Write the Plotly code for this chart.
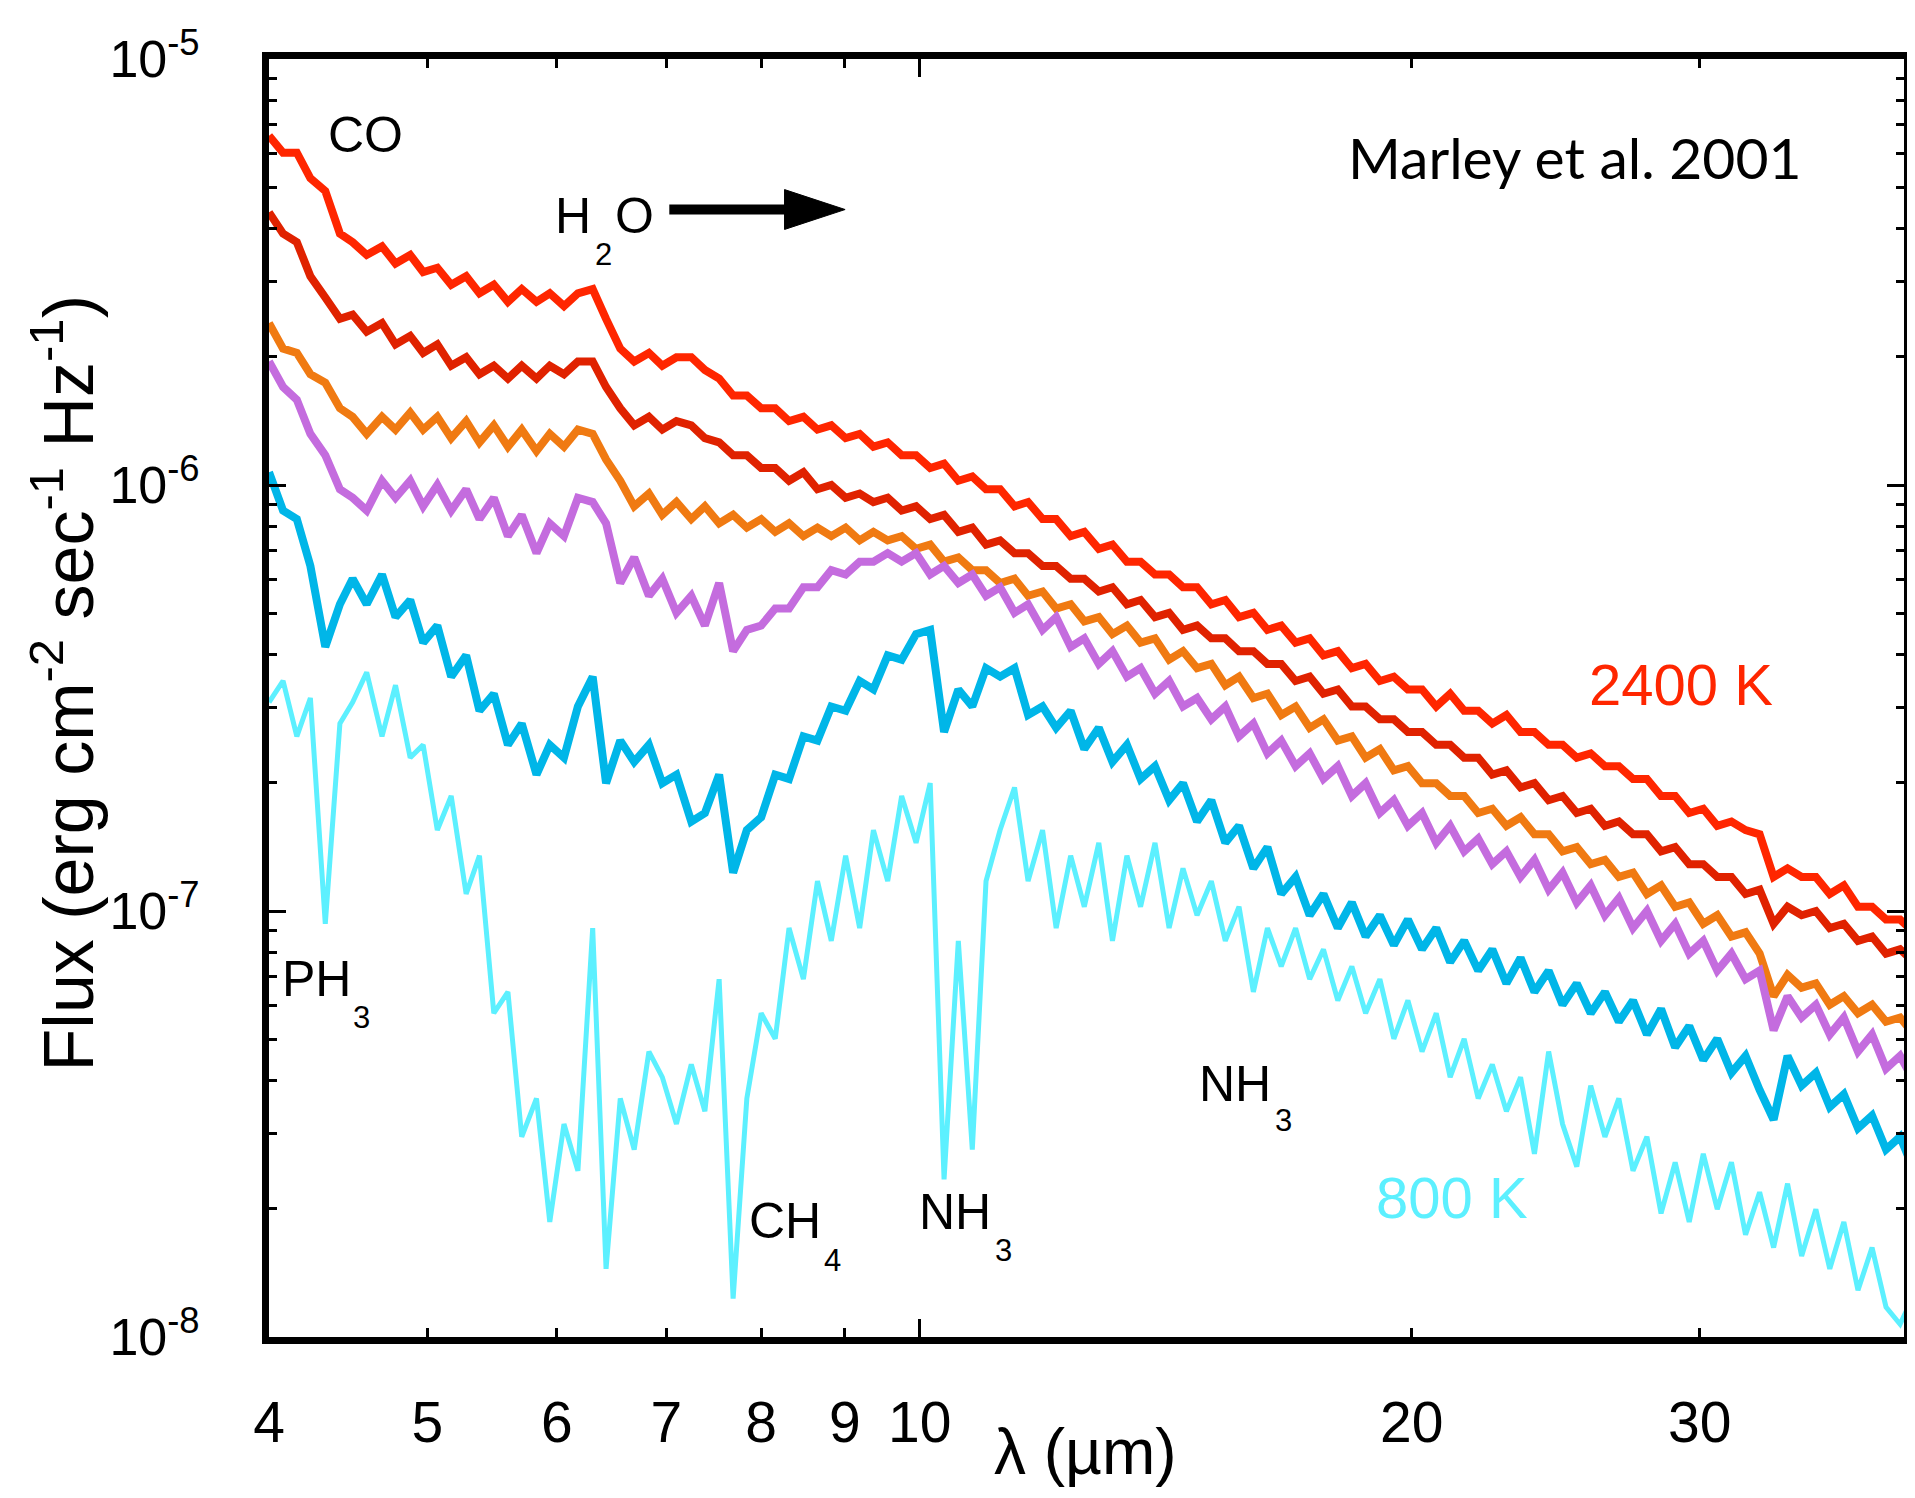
import numpy as np
import plotly.graph_objects as go

# ---------------- data ----------------
wavelength_um = [
    4.00, 4.08, 4.16, 4.24, 4.33, 4.42, 4.50, 4.59, 4.69, 4.78,
    4.88, 4.97, 5.07, 5.17, 5.28, 5.38, 5.49, 5.60, 5.71, 5.83,
    5.94, 6.06, 6.18, 6.31, 6.43, 6.56, 6.69, 6.83, 6.96, 7.10,
    7.25, 7.39, 7.54, 7.69, 7.84, 8.00, 8.16, 8.32, 8.49, 8.66,
    8.83, 9.01, 9.19, 9.37, 9.56, 9.75, 9.95, 10.15, 10.35, 10.56,
    10.77, 10.98, 11.20, 11.43, 11.65, 11.89, 12.12, 12.37, 12.61, 12.87,
    13.12, 13.39, 13.65, 13.93, 14.21, 14.49, 14.78, 15.08, 15.38, 15.68,
    16.00, 16.32, 16.64, 16.98, 17.32, 17.66, 18.02, 18.38, 18.74, 19.12,
    19.50, 19.89, 20.29, 20.70, 21.11, 21.53, 21.96, 22.40, 22.85, 23.31,
    23.77, 24.25, 24.73, 25.23, 25.73, 26.25, 26.77, 27.31, 27.85, 28.41,
    28.98, 29.56, 30.15, 30.75, 31.37, 32.00, 32.64, 33.29, 33.95, 34.63,
    35.33, 36.03, 36.75, 37.49, 38.24, 39.00, 39.78, 40.58,
]

# log10 of flux (erg cm^-2 s^-1 Hz^-1)
log_flux_2400K = [
    -5.18, -5.22, -5.22, -5.28, -5.31, -5.41, -5.43, -5.46, -5.44, -5.48,
    -5.46, -5.50, -5.49, -5.53, -5.51, -5.55, -5.53, -5.57, -5.54, -5.57,
    -5.55, -5.58, -5.55, -5.54, -5.61, -5.68, -5.71, -5.69, -5.72, -5.70,
    -5.70, -5.73, -5.75, -5.79, -5.79, -5.82, -5.82, -5.85, -5.84, -5.87,
    -5.86, -5.89, -5.88, -5.91, -5.90, -5.93, -5.93, -5.96, -5.95, -5.99,
    -5.98, -6.01, -6.01, -6.05, -6.04, -6.08, -6.08, -6.12, -6.11, -6.15,
    -6.14, -6.18, -6.18, -6.21, -6.21, -6.24, -6.24, -6.28, -6.27, -6.31,
    -6.30, -6.34, -6.33, -6.37, -6.36, -6.40, -6.39, -6.43, -6.42, -6.46,
    -6.45, -6.48, -6.48, -6.52, -6.49, -6.53, -6.53, -6.56, -6.54, -6.58,
    -6.58, -6.61, -6.61, -6.64, -6.63, -6.66, -6.66, -6.69, -6.69, -6.73,
    -6.73, -6.77, -6.76, -6.80, -6.79, -6.81, -6.82, -6.92, -6.90, -6.92,
    -6.92, -6.96, -6.94, -6.99, -6.99, -7.02, -7.02, -7.05,
]

log_flux_model2 = [
    -5.36, -5.41, -5.43, -5.51, -5.56, -5.61, -5.60, -5.64, -5.62, -5.67,
    -5.65, -5.69, -5.67, -5.72, -5.70, -5.74, -5.72, -5.75, -5.72, -5.75,
    -5.72, -5.74, -5.71, -5.71, -5.77, -5.82, -5.86, -5.84, -5.87, -5.85,
    -5.86, -5.89, -5.90, -5.93, -5.93, -5.96, -5.96, -5.99, -5.97, -6.01,
    -6.00, -6.03, -6.02, -6.04, -6.03, -6.06, -6.05, -6.08, -6.07, -6.11,
    -6.10, -6.14, -6.13, -6.16, -6.16, -6.19, -6.19, -6.22, -6.22, -6.25,
    -6.24, -6.28, -6.27, -6.31, -6.30, -6.34, -6.33, -6.36, -6.36, -6.39,
    -6.39, -6.42, -6.42, -6.46, -6.45, -6.49, -6.48, -6.52, -6.52, -6.55,
    -6.55, -6.58, -6.58, -6.61, -6.61, -6.64, -6.64, -6.68, -6.67, -6.71,
    -6.70, -6.74, -6.73, -6.77, -6.76, -6.80, -6.79, -6.82, -6.82, -6.86,
    -6.85, -6.89, -6.89, -6.92, -6.92, -6.96, -6.95, -7.03, -6.99, -7.01,
    -7.00, -7.04, -7.03, -7.07, -7.06, -7.10, -7.09, -7.12,
]

log_flux_model3 = [
    -5.62, -5.68, -5.69, -5.74, -5.76, -5.82, -5.84, -5.88, -5.84, -5.87,
    -5.83, -5.87, -5.84, -5.89, -5.85, -5.90, -5.86, -5.91, -5.87, -5.92,
    -5.88, -5.91, -5.87, -5.88, -5.94, -5.99, -6.05, -6.02, -6.07, -6.04,
    -6.08, -6.05, -6.09, -6.07, -6.10, -6.08, -6.11, -6.09, -6.12, -6.10,
    -6.12, -6.10, -6.13, -6.11, -6.13, -6.12, -6.15, -6.14, -6.18, -6.17,
    -6.20, -6.20, -6.23, -6.22, -6.26, -6.25, -6.29, -6.28, -6.32, -6.31,
    -6.35, -6.33, -6.37, -6.36, -6.41, -6.39, -6.43, -6.42, -6.47, -6.45,
    -6.50, -6.49, -6.54, -6.52, -6.57, -6.55, -6.60, -6.59, -6.64, -6.62,
    -6.67, -6.66, -6.70, -6.70, -6.73, -6.73, -6.77, -6.76, -6.80, -6.78,
    -6.82, -6.82, -6.86, -6.85, -6.89, -6.88, -6.92, -6.91, -6.96, -6.94,
    -6.99, -6.98, -7.03, -7.01, -7.06, -7.05, -7.10, -7.20, -7.15, -7.18,
    -7.17, -7.22, -7.20, -7.24, -7.22, -7.26, -7.25, -7.29,
]

log_flux_model4 = [
    -5.71, -5.77, -5.80, -5.88, -5.93, -6.01, -6.03, -6.06, -5.99, -6.03,
    -5.99, -6.05, -6.00, -6.06, -6.01, -6.08, -6.03, -6.12, -6.07, -6.16,
    -6.09, -6.12, -6.03, -6.04, -6.09, -6.23, -6.17, -6.26, -6.22, -6.30,
    -6.26, -6.33, -6.23, -6.39, -6.34, -6.33, -6.29, -6.29, -6.24, -6.24,
    -6.20, -6.21, -6.18, -6.18, -6.16, -6.18, -6.16, -6.21, -6.19, -6.23,
    -6.21, -6.26, -6.24, -6.30, -6.28, -6.34, -6.31, -6.38, -6.36, -6.42,
    -6.39, -6.45, -6.43, -6.49, -6.46, -6.52, -6.50, -6.55, -6.52, -6.59,
    -6.56, -6.63, -6.60, -6.66, -6.63, -6.69, -6.66, -6.73, -6.70, -6.77,
    -6.74, -6.80, -6.77, -6.84, -6.80, -6.86, -6.83, -6.89, -6.86, -6.92,
    -6.88, -6.95, -6.91, -6.98, -6.94, -7.01, -6.97, -7.04, -7.00, -7.07,
    -7.03, -7.10, -7.07, -7.14, -7.10, -7.16, -7.14, -7.28, -7.20, -7.25,
    -7.22, -7.29, -7.25, -7.33, -7.29, -7.37, -7.34, -7.40,
]

log_flux_model5 = [
    -5.97, -6.06, -6.08, -6.19, -6.38, -6.28, -6.22, -6.28, -6.21, -6.31,
    -6.27, -6.37, -6.33, -6.45, -6.40, -6.53, -6.49, -6.61, -6.56, -6.68,
    -6.61, -6.64, -6.52, -6.45, -6.70, -6.60, -6.65, -6.61, -6.70, -6.68,
    -6.79, -6.77, -6.68, -6.91, -6.81, -6.78, -6.68, -6.69, -6.59, -6.60,
    -6.52, -6.53, -6.46, -6.48, -6.40, -6.41, -6.35, -6.34, -6.58, -6.48,
    -6.52, -6.43, -6.45, -6.43, -6.54, -6.52, -6.57, -6.53, -6.62, -6.57,
    -6.65, -6.61, -6.69, -6.66, -6.74, -6.70, -6.79, -6.74, -6.84, -6.80,
    -6.90, -6.85, -6.96, -6.92, -7.01, -6.96, -7.04, -6.98, -7.06, -7.01,
    -7.08, -7.02, -7.09, -7.04, -7.12, -7.07, -7.14, -7.09, -7.17, -7.11,
    -7.19, -7.14, -7.22, -7.17, -7.24, -7.19, -7.26, -7.21, -7.29, -7.23,
    -7.32, -7.27, -7.35, -7.30, -7.38, -7.34, -7.42, -7.49, -7.34, -7.41,
    -7.38, -7.46, -7.43, -7.51, -7.48, -7.56, -7.53, -7.61,
]

log_flux_800K = [
    -6.51, -6.46, -6.59, -6.50, -7.03, -6.56, -6.51, -6.44, -6.59, -6.47,
    -6.64, -6.61, -6.81, -6.73, -6.96, -6.87, -7.24, -7.19, -7.53, -7.44,
    -7.73, -7.50, -7.61, -7.04, -7.84, -7.44, -7.56, -7.33, -7.39, -7.50,
    -7.36, -7.47, -7.16, -7.91, -7.44, -7.24, -7.30, -7.04, -7.16, -6.93,
    -7.07, -6.87, -7.04, -6.81, -6.93, -6.73, -6.84, -6.70, -7.63, -7.07,
    -7.56, -6.93, -6.81, -6.71, -6.93, -6.81, -7.04, -6.87, -6.99, -6.84,
    -7.07, -6.87, -6.99, -6.84, -7.04, -6.90, -7.01, -6.93, -7.07, -6.99,
    -7.19, -7.04, -7.13, -7.04, -7.16, -7.09, -7.21, -7.13, -7.24, -7.16,
    -7.30, -7.21, -7.33, -7.24, -7.39, -7.30, -7.44, -7.36, -7.47, -7.39,
    -7.57, -7.33, -7.50, -7.60, -7.41, -7.53, -7.44, -7.61, -7.53, -7.71,
    -7.59, -7.73, -7.57, -7.70, -7.59, -7.76, -7.66, -7.79, -7.64, -7.81,
    -7.70, -7.84, -7.73, -7.89, -7.79, -7.93, -7.97, -7.90,
]

series_names = ["2400 K", "model 2", "model 3", "model 4", "model 5", "800 K"]
series_values = [log_flux_2400K, log_flux_model2, log_flux_model3,
                 log_flux_model4, log_flux_model5, log_flux_800K]
series_colors = ["rgb(255,38,0)", "rgb(224,34,0)", "rgb(240,122,18)",
                 "rgb(196,108,222)", "rgb(0,182,232)", "rgb(92,240,255)"]
series_widths = [8, 8, 8, 8, 8, 5]

x_tick_vals = [4, 5, 6, 7, 8, 9, 10, 20, 30]
x_tick_text = ["4", "5", "6", "7", "8", "9", "10", "20", "30"]
y_tick_vals = [1e-8, 1e-7, 1e-6, 1e-5]
y_tick_text = ["10<sup>-8</sup>", "10<sup>-7</sup>", "10<sup>-6</sup>", "10<sup>-5</sup>"]
y_minor_vals = [m * 10.0 ** e for e in (-8, -7, -6) for m in range(2, 10)]

FONT = "Liberation Sans, Arial, Helvetica, sans-serif"

# ---------------- figure ----------------
fig = go.Figure()
for i, (name, vals, col, w) in enumerate(zip(series_names, series_values,
                                               series_colors, series_widths)):
    fig.add_trace(go.Scatter(
        x=wavelength_um, y=np.power(10.0, np.array(vals)),
        mode="lines", name=name, showlegend=False,
        line=dict(color=col, width=w),
        xaxis="x2" if i == len(series_names) - 1 else "x",
    ))

xrange_log = [np.log10(4), np.log10(40)]
axis_font = dict(family=FONT, size=57, color="black")

# figure kept a little smaller than the window so the frame's right edge stays visible
W, H = 1907, 1490
L, R, T, B = 261, 4, 51, 161

fig.update_layout(
    width=W, height=H,
    margin=dict(l=L, r=R, t=T, b=B),
    paper_bgcolor="white", plot_bgcolor="white",
    font=dict(family=FONT, color="black"),
    xaxis=dict(
        type="log", range=xrange_log,
        tickmode="array", tickvals=x_tick_vals, ticktext=x_tick_text,
        ticks="inside", ticklen=9, tickwidth=3, tickcolor="black",
        showline=True, linewidth=7, linecolor="black", mirror="ticks",
        showgrid=False, zeroline=False, tickfont=axis_font,
        ticklabelstandoff=30,
    ),
    xaxis2=dict(
        type="log", range=xrange_log, overlaying="x", anchor="y", side="bottom",
        tickmode="array", tickvals=[10], ticks="inside", ticklen=18, tickwidth=3,
        tickcolor="black", showticklabels=False, showline=False, mirror="ticks",
        showgrid=False, zeroline=False,
    ),
    yaxis=dict(
        type="log", range=[-8, -5],
        tickmode="array", tickvals=y_tick_vals, ticktext=y_tick_text,
        ticks="inside", ticklen=17, tickwidth=3, tickcolor="black",
        showline=True, linewidth=7, linecolor="black", mirror="ticks",
        showgrid=False, zeroline=False,
        tickfont=dict(family=FONT, size=52, color="black"),
        ticklabelstandoff=52,
        minor=dict(tickmode="array", tickvals=y_minor_vals, ticks="inside",
                   ticklen=8, tickwidth=3, tickcolor="black", showgrid=False),
    ),
)

# ---------------- text labels (placed relative to the plot frame) ----------------
# frame of the reference: left 265, top 55, width 1646, height 1282 (pixels)
def px(X):
    return (X - 265) / 1646.0


def py(Y):
    return (1337 - Y) / 1282.0


labels = [
    ("CO", 362, 131, 50, "black"),
    ("H", 571, 212, 50, "black"),
    ("2", 602, 251, 31, "black"),
    ("O", 633, 212, 50, "black"),
    ("PH", 313, 978, 50, "black"),
    ("3", 358, 1017, 31, "black"),
    ("CH", 784, 1221, 50, "black"),
    ("4", 832, 1260, 31, "black"),
    ("NH", 956, 1212, 50, "black"),
    ("3", 1004, 1250, 31, "black"),
    ("NH", 1237, 1083, 50, "black"),
    ("3", 1286, 1120, 31, "black"),
    ("2400 K", 1687, 682, 58, "rgb(255,38,0)"),
    ("800 K", 1456, 1197, 58, "rgb(92,240,255)"),
]
for text, X, Y, size, color in labels:
    fig.add_annotation(text=text, x=px(X), y=py(Y), xref="paper", yref="paper",
                       showarrow=False, xanchor="center", yanchor="middle",
                       font=dict(family=FONT, size=size, color=color))

fig.add_annotation(text="Marley et al. 2001", x=px(1580), y=py(153),
                   xref="paper", yref="paper", showarrow=False,
                   xanchor="center", yanchor="middle",
                   font=dict(family="Lato, Open Sans, sans-serif", size=57, color="black"))

# axis titles
fig.add_annotation(text="λ (µm)", x=px(1087), y=py(1452), xref="paper", yref="paper",
                   showarrow=False, xanchor="center", yanchor="middle",
                   font=dict(family=FONT, size=64, color="black"))
fig.add_annotation(text="Flux (erg cm<sup>-2</sup> sec<sup>-1</sup> Hz<sup>-1</sup>)",
                   x=px(58), y=py(681), xref="paper", yref="paper",
                   showarrow=False, xanchor="center", yanchor="middle", textangle=-90,
                   font=dict(family=FONT, size=70, color="black"))

# H2O arrow
fig.add_shape(type="line", xref="paper", yref="paper",
              x0=px(668), x1=px(796), y0=py(206), y1=py(206),
              line=dict(color="black", width=10))
fig.add_shape(type="path", xref="paper", yref="paper",
              path=f"M {px(784)},{py(186)} L {px(845)},{py(206)} L {px(784)},{py(226)} Z",
              fillcolor="black", line=dict(color="black", width=1))

fig.write_html("out.html")
